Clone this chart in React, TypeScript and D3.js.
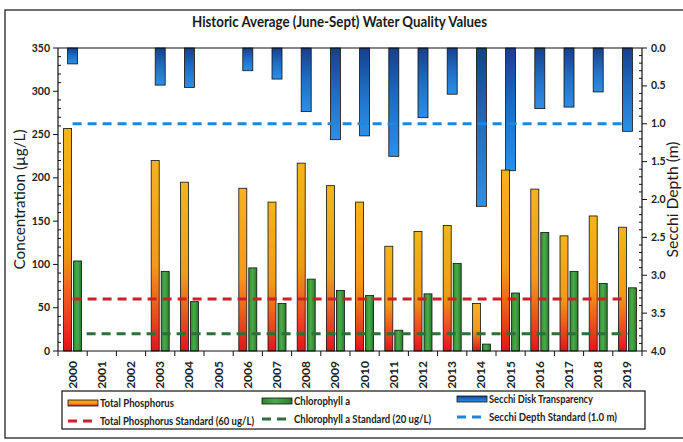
import React from 'react';
import * as d3 from 'd3';

const years = ['2000', '2001', '2002', '2003', '2004', '2005', '2006', '2007', '2008', '2009',
  '2010', '2011', '2012', '2013', '2014', '2015', '2016', '2017', '2018', '2019'];
// null = no sampling that year
const totalPhosphorus = [257, null, null, 220, 195, null, 188, 172, 217, 191,
  172, 121, 138, 145, 55, 209, 187, 133, 156, 143];
const chlorophyll = [104, null, null, 92, 57, null, 96, 55, 83, 70,
  64, 24, 66, 101, 8, 67, 137, 92, 78, 73];
const secchi = [0.21, null, null, 0.49, 0.52, null, 0.30, 0.41, 0.84, 1.21,
  1.16, 1.43, 0.92, 0.61, 2.09, 1.62, 0.80, 0.78, 0.58, 1.10];
const leftTicks = [0, 50, 100, 150, 200, 250, 300, 350];
const rightTicks = [0, 0.5, 1, 1.5, 2, 2.5, 3, 3.5, 4];
const tpStandard = 60;
const chlStandard = 20;
const secchiStandard = 1.0;

const W = 683;
const H = 442;
const m = { left: 58, right: 642, top: 48, bottom: 351 };
const font = 'Lato, "Open Sans", sans-serif';

export default function App() {
  const x = d3.scaleBand().domain(years).range([m.left, m.right]);
  const yL = d3.scaleLinear().domain([0, 350]).range([m.bottom, m.top]);
  const yR = d3.scaleLinear().domain([0, 4]).range([m.top, m.bottom]);
  const bw = 8;
  const cx = (yr: string) => (x(yr) as number) + x.bandwidth() / 2;
  const xFirst = cx(years[0]);
  const xLast = cx(years[years.length - 1]);

  const minorL = d3.range(0, 351, 10).filter(v => v % 50 !== 0);
  const minorR = d3.range(0, 41, 1).map(v => v / 10).filter((v, i) => i % 5 !== 0);

  const dash = '9,6';
  const fit = (len: number) => ({ textLength: len, lengthAdjust: 'spacingAndGlyphs' as const });

  return (
    <svg width={W} height={H} style={{ position: 'absolute', left: 0, top: 0, background: '#fff' }}>
      <defs>
        <linearGradient id="tpGrad" x1="0" y1="0" x2="0" y2="1">
          <stop offset="0" stopColor="#f4b41c" />
          <stop offset="0.55" stopColor="#f29a18" />
          <stop offset="0.82" stopColor="#eb4a1e" />
          <stop offset="1" stopColor="#e2141c" />
        </linearGradient>
        <linearGradient id="chlGrad" x1="0" y1="0" x2="1" y2="0">
          <stop offset="0" stopColor="#2e8a30" />
          <stop offset="0.45" stopColor="#4cab4a" />
          <stop offset="1" stopColor="#2a7a2c" />
        </linearGradient>
        <linearGradient id="sdGrad" x1="0" y1="0" x2="0" y2="1">
          <stop offset="0" stopColor="#173f8c" />
          <stop offset="0.5" stopColor="#1f6fc4" />
          <stop offset="1" stopColor="#2d8fe6" />
        </linearGradient>
      </defs>

      {/* outer chart frame */}
      <rect x={5} y={10} width={690} height={428} fill="none" stroke="#222" strokeWidth={1.3} />

      <text x={192} y={27} fontFamily={font} fontWeight="bold" fontSize={15} fill="#1a1a1a" {...fit(295)}>
        Historic Average (June-Sept) Water Quality Values
      </text>

      {/* secchi bars hang from the top */}
      {years.map((yr, i) => secchi[i] == null ? null : (
        <rect key={'s' + yr} x={cx(yr) - 5} y={yR(0)} width={10} height={yR(secchi[i] as number) - yR(0)}
          fill="url(#sdGrad)" stroke="#111" strokeWidth={0.8} />
      ))}

      {years.map((yr, i) => totalPhosphorus[i] == null ? null : (
        <rect key={'p' + yr} x={cx(yr) - bw - 1} y={yL(totalPhosphorus[i] as number)} width={bw}
          height={yL(0) - yL(totalPhosphorus[i] as number)} fill="url(#tpGrad)" stroke="#111" strokeWidth={0.8} />
      ))}
      {years.map((yr, i) => chlorophyll[i] == null ? null : (
        <rect key={'c' + yr} x={cx(yr) + 1} y={yL(chlorophyll[i] as number)} width={bw}
          height={yL(0) - yL(chlorophyll[i] as number)} fill="url(#chlGrad)" stroke="#111" strokeWidth={0.8} />
      ))}

      {/* standards */}
      <line x1={xFirst} x2={xLast} y1={yR(secchiStandard)} y2={yR(secchiStandard)} stroke="#1f86dd" strokeWidth={3} strokeDasharray={dash} />
      <line x1={xFirst} x2={xLast} y1={yL(tpStandard)} y2={yL(tpStandard)} stroke="#cc1f26" strokeWidth={3} strokeDasharray={dash} />
      <line x1={xFirst + 14} x2={xLast} y1={yL(chlStandard)} y2={yL(chlStandard)} stroke="#2d6e3a" strokeWidth={3} strokeDasharray={dash} />

      {/* plot frame */}
      <line x1={m.left} x2={m.right} y1={m.top} y2={m.top} stroke="#111" strokeWidth={1.2} />
      <line x1={m.left} x2={m.right} y1={m.bottom} y2={m.bottom} stroke="#111" strokeWidth={1.2} />
      <line x1={m.left} x2={m.left} y1={m.top} y2={m.bottom} stroke="#111" strokeWidth={1.2} />
      <line x1={m.right} x2={m.right} y1={m.top} y2={m.bottom} stroke="#111" strokeWidth={1.2} />

      {/* left axis */}
      {leftTicks.map(v => (
        <g key={'l' + v}>
          <line x1={m.left - 5} x2={m.left} y1={yL(v)} y2={yL(v)} stroke="#111" />
          <text x={m.left - 8} y={yL(v) + 3.5} textAnchor="end" fontFamily={font} fontWeight="bold" fontSize={10.5} fill="#222">{v}</text>
        </g>
      ))}
      {minorL.map(v => <line key={'ml' + v} x1={m.left} x2={m.left + 3} y1={yL(v)} y2={yL(v)} stroke="#111" />)}
      <text transform={`translate(25,${(m.top + m.bottom) / 2}) rotate(-90)`} textAnchor="middle"
        fontFamily={font} fontSize={15} fill="#1a1a1a" {...fit(140)}>Concentration (µg/L)</text>

      {/* right axis */}
      {rightTicks.map(v => (
        <g key={'r' + v}>
          <line x1={m.right} x2={m.right + 5} y1={yR(v)} y2={yR(v)} stroke="#111" />
          <text x={m.right + 9} y={yR(v) + 3.5} fontFamily={font} fontWeight="bold" fontSize={10.5} fill="#222">{d3.format('.1f')(v)}</text>
        </g>
      ))}
      {minorR.map(v => <line key={'mr' + v} x1={m.right - 3} x2={m.right} y1={yR(v)} y2={yR(v)} stroke="#111" />)}
      <text transform={`translate(678,${(m.top + m.bottom) / 2}) rotate(-90)`} textAnchor="middle"
        fontFamily={font} fontSize={15} fill="#1a1a1a" {...fit(116)}>Secchi Depth (m)</text>

      {/* x axis */}
      {years.map(yr => (
        <line key={'xt' + yr} x1={x(yr) as number} x2={x(yr) as number}
          y1={m.bottom} y2={m.bottom + 5} stroke="#111" />
      ))}
      <line x1={m.right} x2={m.right} y1={m.bottom} y2={m.bottom + 5} stroke="#111" />
      {years.map(yr => (
        <text key={'xl' + yr} transform={`translate(${cx(yr) + 4},${m.bottom + 10}) rotate(-90)`} textAnchor="end"
          fontFamily={font} fontWeight="bold" fontSize={12} fill="#222">{yr}</text>
      ))}

      {/* legend */}
      <rect x={62} y={391} width={583} height={38} fill="#fff" stroke="#111" strokeWidth={1.2} />
      <g fontFamily={font} fontWeight="bold" fontSize={11} fill="#222">
        <rect x={68} y={400} width={30} height={6} fill="url(#tpGrad)" stroke="#111" strokeWidth={0.8} />
        <text x={100} y={407} {...fit(74)}>Total Phosphorus</text>
        <rect x={262} y={398} width={30} height={6} fill="url(#chlGrad)" stroke="#111" strokeWidth={0.8} />
        <text x={294} y={405} {...fit(56)}>Chlorophyll a</text>
        <rect x={457} y={396} width={30} height={6} fill="url(#sdGrad)" stroke="#111" strokeWidth={0.8} />
        <text x={489} y={403} {...fit(104)}>Secchi Disk Transparency</text>

        <line x1={68} x2={98} y1={421} y2={421} stroke="#cc1f26" strokeWidth={3} strokeDasharray={dash} />
        <text x={100} y={425} {...fit(154)}>Total Phosphorus Standard (60 ug/L)</text>
        <line x1={262} x2={292} y1={419} y2={419} stroke="#2d6e3a" strokeWidth={3} strokeDasharray={dash} />
        <text x={294} y={423} {...fit(137)}>Chlorophyll a Standard (20 ug/L)</text>
        <line x1={457} x2={487} y1={417} y2={417} stroke="#1f86dd" strokeWidth={3} strokeDasharray={dash} />
        <text x={489} y={421} {...fit(128)}>Secchi Depth Standard (1.0 m)</text>
      </g>
    </svg>
  );
}
